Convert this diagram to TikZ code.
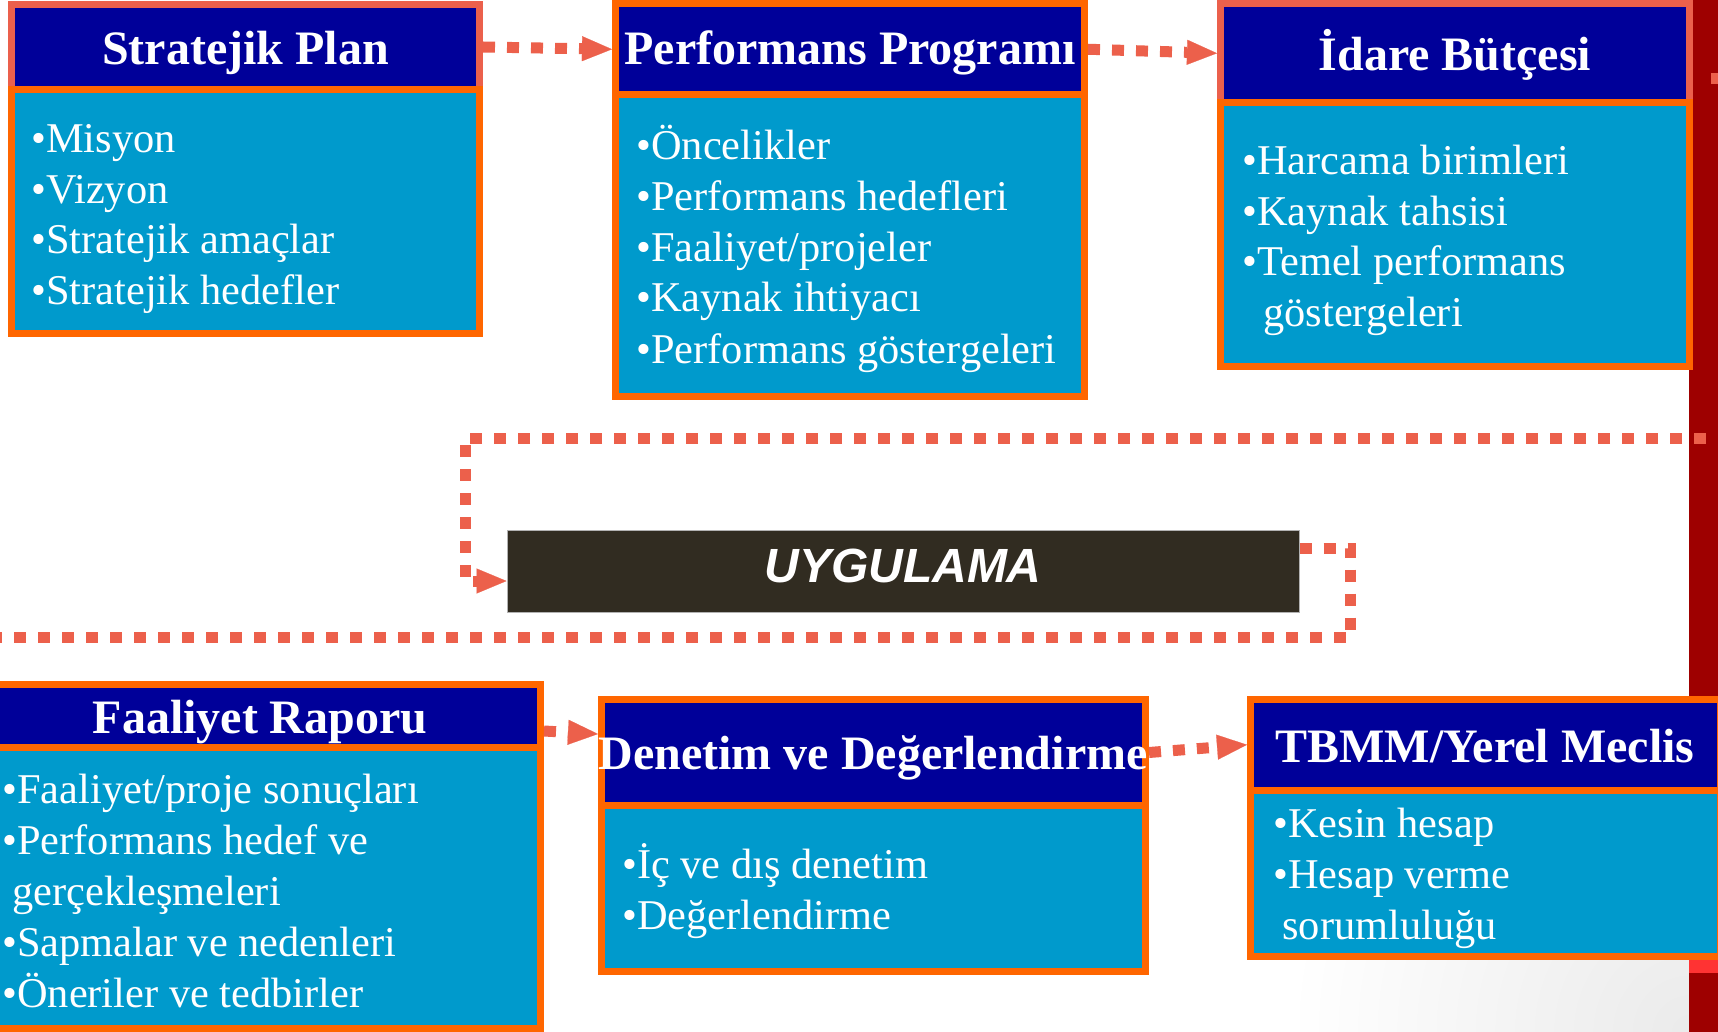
\documentclass[tikz,border=0pt]{standalone}
\usepackage{fontspec}
\setmainfont{Liberation Serif}
\newfontfamily\uygfont{Liberation Sans}
\usetikzlibrary{arrows.meta}
\definecolor{hdrblue}{RGB}{0,0,153}
\definecolor{bodyblue}{RGB}{0,154,204}
\definecolor{orng}{RGB}{255,102,0}
\definecolor{salmonc}{RGB}{235,96,76}
\definecolor{arrowc}{RGB}{236,96,75}
\definecolor{uygfill}{RGB}{49,44,33}
\definecolor{barred}{RGB}{158,0,0}
\definecolor{stripred}{RGB}{255,51,51}
\tikzset{
  hdrbox/.style={draw=orng, fill=hdrblue, line width=3.5pt, inner sep=0pt},
  hdrsalmon/.style={hdrbox, draw=salmonc},
  bodybox/.style={draw=orng, fill=bodyblue, line width=3.5pt, inner sep=0pt},
  hdrtext/.style={text=white, font=\fontsize{24}{28}\selectfont\bfseries, inner sep=0pt, anchor=base},
  bodytext/.style={text=white, font=\fontsize{21.2}{25.5}\selectfont, inner sep=0pt, anchor=base west, align=left},
  flow/.style={draw=arrowc, line width=5.5pt, dash pattern=on 6pt off 6pt},
  flowarrow/.style={flow, -{Triangle[length=15pt,width=12.5pt,line width=0.1pt]}},
  uygbox/.style={fill=uygfill, draw=gray!60, line width=0.5pt, inner sep=0pt, text=white,
    font=\uygfont\bfseries\itshape\fontsize{24}{28}\selectfont, text depth=5pt}
}
\begin{document}
\begin{tikzpicture}[x=0.5pt,y=-0.5pt]
\useasboundingbox (0,0) rectangle (1718,1032);
\clip (0,0) rectangle (1718,1032);
\fill[white] (0,0) rectangle (1718,1032);
% background corner shading
\begin{scope}
  \clip (1300,930) rectangle (1689,1032);
  \shade[inner color=black!8, outer color=white] (1689,1032) circle (400);
\end{scope}
% right bar
\fill[barred] (1689,0) rectangle (1718,1032);
\fill[stripred] (1689,959) rectangle (1718,973);

% Stratejik Plan
\node[hdrsalmon, minimum width=234pt, minimum height=42.5pt] (sph) at (245.5,47) {};
\node[bodybox, minimum width=234pt, minimum height=122pt] (spb) at (245.5,211.5) {};
\node[hdrtext] (spt) at (245.5,65) {Stratejik Plan};
\node[bodytext] (spl) at (31,305) {•Misyon\\•Vizyon\\•Stratejik amaçlar\\•Stratejik hedefler};

% Performans Programi
\node[hdrbox, minimum width=234.5pt, minimum height=45.75pt] (pph) at (850,49.25) {};
\node[bodybox, minimum width=234.5pt, minimum height=150.75pt] (ppb) at (850,245.75) {};
\node[hdrtext] (ppt) at (850,65) {Performans Programı};
\node[bodytext] (ppl) at (636,363) {•Öncelikler\\•Performans hedefleri\\•Faaliyet/projeler\\•Kaynak ihtiyacı\\•Performans göstergeleri};

% Idare Butcesi
\node[hdrsalmon, minimum width=234.5pt, minimum height=49.75pt] (ibh) at (1455,53.25) {};
\node[bodybox, minimum width=234.5pt, minimum height=131.75pt] (ibb) at (1455,234.75) {};
\node[hdrtext] (ibt) at (1455,71) {İdare Bütçesi};
\node[bodytext] (ibl) at (1242,327) {•Harcama birimleri\\•Kaynak tahsisi\\•Temel performans\\\hspace*{10.5pt}göstergeleri};

% Faaliyet Raporu
\node[hdrbox, minimum width=275.25pt, minimum height=31.5pt] (frh) at (265.25,716) {};
\node[bodybox, minimum width=275.25pt, minimum height=140.5pt] (frb) at (265.25,888) {};
\node[hdrtext] (frt) at (260,733) {Faaliyet Raporu};
\node[bodytext] (frl) at (2,1007) {•Faaliyet/proje sonuçları\\•Performans hedef ve\\\hspace*{5pt}gerçekleşmeleri\\•Sapmalar ve nedenleri\\•Öneriler ve tedbirler};

% Denetim ve Degerlendirme
\node[hdrbox, minimum width=272pt, minimum height=53pt] (ddh) at (873.5,752.5) {};
\node[bodybox, minimum width=272pt, minimum height=83pt] (ddb) at (873.5,888.5) {};
\node[hdrtext] (ddt) at (873,769) {Denetim ve Değerlendirme};
\node[bodytext] (ddl) at (622,929) {•İç ve dış denetim\\•Değerlendirme};

% TBMM
\node[hdrbox, minimum width=234.75pt, minimum height=45.25pt] (tbh) at (1485.25,744.75) {};
\node[bodybox, minimum width=234.75pt, minimum height=83.25pt] (tbb) at (1485.25,873.25) {};
\node[hdrtext] (tbt) at (1485,762) {TBMM/Yerel Meclis};
\node[bodytext] (tbl) at (1273,939) {•Kesin hesap\\•Hesap verme\\\hspace*{4.5pt}sorumluluğu};

% UYGULAMA
\node[uygbox, minimum width=396pt, minimum height=41pt] (uyg) at (903,571) {UYGULAMA};

% connectors
\draw[flowarrow] (sph.east) -- (pph.west);
\draw[flowarrow] (pph.east) -- (ibh.west);

\coordinate (sq1) at (1711,79);
\coordinate (sq2) at (1735,79);
\draw[flow] (sq1) -- (sq2);

\coordinate (topin) at (1730,438);
\coordinate (topcorner) at (465,438);
\draw[flowarrow] (topin) -- (topcorner) |- ([yshift=-5pt]uyg.west);

\coordinate (rcorner) at (1350,548);
\coordinate (leftout) at (0,637);
\draw[flow] ([yshift=11.5pt]uyg.east) -- (rcorner) |- (leftout);

\draw[flowarrow] ([yshift=-7.5pt]frh.east) -- ([yshift=9.25pt]ddh.west);
\draw[flowarrow] (ddh.east) -- (tbh.west);
\end{tikzpicture}
\end{document}
